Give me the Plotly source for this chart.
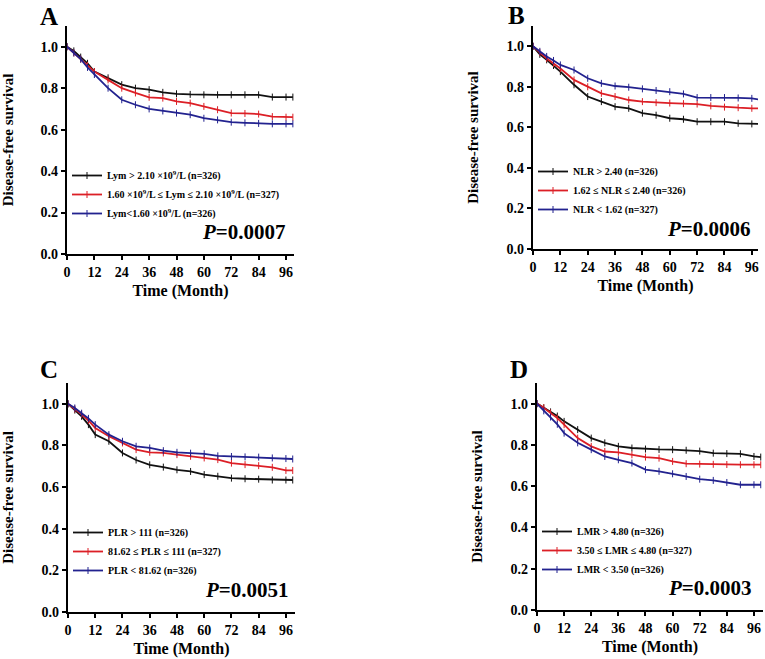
import plotly.graph_objects as go

months = [0, 3, 6, 9, 12, 18, 24, 30, 36, 42, 48, 54, 60, 66, 72, 78, 84, 90, 96, 99]

# A: lymphocyte count
lym_high = [1.0, 0.98, 0.95, 0.92, 0.88, 0.85, 0.817, 0.80, 0.793, 0.78, 0.773, 0.77, 0.768, 0.768, 0.768, 0.768, 0.768, 0.757, 0.757, 0.757]
lym_mid = [1.0, 0.97, 0.94, 0.91, 0.88, 0.84, 0.80, 0.777, 0.756, 0.752, 0.736, 0.728, 0.712, 0.696, 0.68, 0.678, 0.675, 0.663, 0.66, 0.66]
lym_low = [1.0, 0.97, 0.94, 0.90, 0.866, 0.80, 0.744, 0.72, 0.70, 0.69, 0.68, 0.672, 0.655, 0.647, 0.636, 0.633, 0.63, 0.628, 0.628, 0.628]

# B: NLR
nlr_high = [1.0, 0.96, 0.933, 0.905, 0.875, 0.81, 0.752, 0.727, 0.702, 0.694, 0.67, 0.66, 0.645, 0.64, 0.628, 0.628, 0.628, 0.62, 0.617, 0.617]
nlr_mid = [1.0, 0.97, 0.94, 0.915, 0.89, 0.834, 0.80, 0.768, 0.752, 0.735, 0.727, 0.722, 0.72, 0.717, 0.715, 0.706, 0.70, 0.697, 0.694, 0.694]
nlr_low = [1.0, 0.975, 0.95, 0.93, 0.908, 0.883, 0.842, 0.817, 0.804, 0.798, 0.79, 0.782, 0.776, 0.765, 0.747, 0.747, 0.747, 0.745, 0.743, 0.738]

# C: PLR
plr_high = [1.0, 0.97, 0.94, 0.90, 0.852, 0.82, 0.764, 0.73, 0.707, 0.696, 0.683, 0.675, 0.66, 0.652, 0.643, 0.64, 0.638, 0.634, 0.634, 0.634]
plr_mid = [1.0, 0.975, 0.95, 0.92, 0.884, 0.844, 0.812, 0.78, 0.767, 0.764, 0.756, 0.748, 0.74, 0.732, 0.715, 0.708, 0.703, 0.695, 0.68, 0.68]
plr_low = [1.0, 0.98, 0.955, 0.93, 0.90, 0.852, 0.82, 0.796, 0.788, 0.775, 0.767, 0.763, 0.76, 0.75, 0.747, 0.745, 0.744, 0.74, 0.737, 0.735]

# D: LMR
lmr_high = [1.0, 0.98, 0.96, 0.94, 0.914, 0.874, 0.833, 0.81, 0.793, 0.785, 0.78, 0.778, 0.777, 0.774, 0.77, 0.76, 0.758, 0.757, 0.744, 0.741]
lmr_mid = [1.0, 0.98, 0.955, 0.93, 0.898, 0.833, 0.793, 0.768, 0.764, 0.752, 0.741, 0.736, 0.72, 0.709, 0.707, 0.706, 0.705, 0.704, 0.704, 0.704]
lmr_low = [1.0, 0.965, 0.935, 0.90, 0.857, 0.81, 0.777, 0.744, 0.728, 0.712, 0.68, 0.672, 0.66, 0.647, 0.634, 0.628, 0.618, 0.607, 0.607, 0.607]

panels = [
    ("A", [lym_high, lym_mid, lym_low],
     ["Lym > 2.10 ×10<sup>9</sup>/L (n=326)",
      "1.60 ×10<sup>9</sup>/L ≤ Lym ≤ 2.10 ×10<sup>9</sup>/L (n=327)",
      "Lym<1.60 ×10<sup>9</sup>/L (n=326)"], "0.0007"),
    ("B", [nlr_high, nlr_mid, nlr_low],
     ["NLR > 2.40 (n=326)", "1.62 ≤ NLR ≤ 2.40 (n=326)", "NLR < 1.62 (n=327)"], "0.0006"),
    ("C", [plr_high, plr_mid, plr_low],
     ["PLR > 111 (n=326)", "81.62 ≤ PLR ≤ 111 (n=327)", "PLR < 81.62 (n=326)"], "0.0051"),
    ("D", [lmr_high, lmr_mid, lmr_low],
     ["LMR > 4.80 (n=326)", "3.50 ≤ LMR ≤ 4.80 (n=327)", "LMR < 3.50 (n=326)"], "0.0003"),
]

colors = ["#111111", "#dc1f26", "#22228f"]
FONT = "Liberation Serif"
W, H = 765, 659

# pixel layout of each panel: x of y-axis, x end, y of zero line, y top, x max
boxes = [
    (67, 294, 254, 26, 99.5),
    (533, 758, 249, 26, 98.7),
    (68, 295, 612, 383, 100),
    (537, 763, 610, 383, 100),
]
legend_pos = [(67, 161), (533, 157), (68, 518), (537, 517)]
p_pos = [(288, 232), (753, 229), (291, 590), (754, 588)]
letter_pos = [(49, 1), (516, 0), (49, 354), (519, 354)]

fig = go.Figure()
layout = dict()
annotations = []

for i, (letter, series, names, pval) in enumerate(panels):
    n = i + 1
    xa = "x" if n == 1 else "x%d" % n
    ya = "y" if n == 1 else "y%d" % n
    lg = "legend" if n == 1 else "legend%d" % n
    x0, x1, y0, y1, xmax = boxes[i]
    for s, name, c in zip(series, names, colors):
        fig.add_trace(go.Scatter(
            x=months, y=s, name=name, xaxis=xa, yaxis=ya, legend=lg,
            mode="lines+markers",
            line=dict(color=c, width=1.8),
            marker=dict(symbol="line-ns-open", size=5, color=c, line=dict(width=1, color=c)),
        ))
    axis_common = dict(
        showline=True, linecolor="black", linewidth=2.2,
        ticks="outside", ticklen=4, tickwidth=2, tickcolor="black",
        showgrid=False, zeroline=False, automargin=False,
        tickfont=dict(family=FONT, size=14, color="black", weight="bold"),
    )
    layout["xaxis" if n == 1 else "xaxis%d" % n] = dict(
        axis_common, domain=[x0 / W, x1 / W], range=[0, xmax], anchor=ya,
        tickvals=[0, 12, 24, 36, 48, 60, 72, 84, 96],
        title=dict(text="Time (Month)", standoff=6,
                   font=dict(family=FONT, size=16, color="black", weight="bold")),
    )
    layout["yaxis" if n == 1 else "yaxis%d" % n] = dict(
        axis_common, domain=[1 - y0 / H, 1 - y1 / H], range=[0, 1.1], anchor=xa,
        tickvals=[0, 0.2, 0.4, 0.6, 0.8, 1.0], tickformat=".1f",
        title=dict(text="Disease-free survival", standoff=24,
                   font=dict(family=FONT, size=15, color="black", weight="bold")),
    )
    lx, ly = legend_pos[i]
    layout[lg] = dict(
        x=lx / W, y=1 - ly / H, xanchor="left", yanchor="top",
        bgcolor="rgba(0,0,0,0)", itemwidth=30, tracegroupgap=0,
        font=dict(family=FONT, size=10, color="black", weight="bold"),
    )
    px_, py_ = p_pos[i]
    annotations.append(dict(
        text="<i>P</i>=" + pval, x=px_ / W, y=1 - py_ / H, xref="paper", yref="paper",
        xanchor="right", yanchor="middle", showarrow=False,
        font=dict(family=FONT, size=21, color="black", weight="bold"),
    ))
    lx_, ly_ = letter_pos[i]
    annotations.append(dict(
        text=letter, x=lx_ / W, y=1 - ly_ / H, xref="paper", yref="paper",
        xanchor="center", yanchor="top", showarrow=False,
        font=dict(family=FONT, size=25, color="black", weight="bold"),
    ))

fig.update_layout(
    width=W, height=H, margin=dict(l=0, r=0, t=0, b=0),
    paper_bgcolor="white", plot_bgcolor="white",
    annotations=annotations, **layout,
)

# drop the browser's default page margin so the figure sits at the window's corner
fig.write_html("out.html", config={"displayModeBar": False},
               post_script="document.body.style.margin='0';")
